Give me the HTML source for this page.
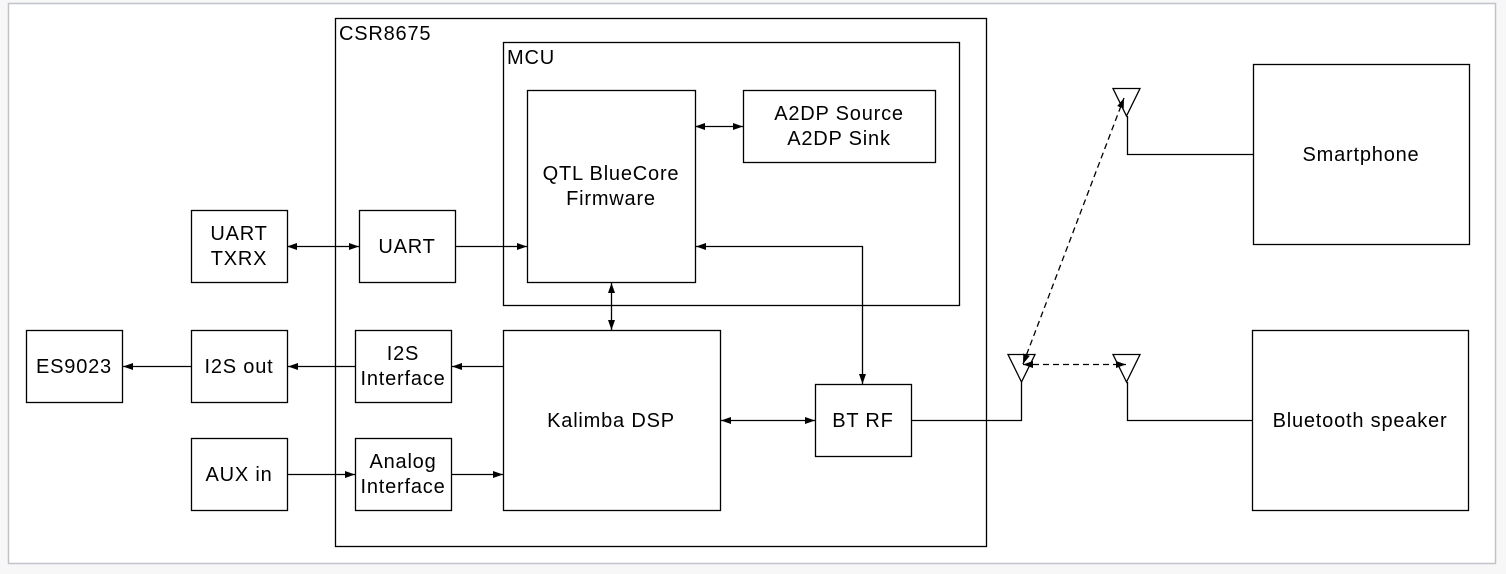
<!DOCTYPE html>
<html><head><style>
html,body{margin:0;padding:0;background:#f7f7f7;}
svg{display:block;}
text{font-family:"Liberation Sans",sans-serif;font-size:20px;letter-spacing:0.8px;fill:#000;}
</style></head><body>
<svg width="1506" height="574" viewBox="0 0 1506 574" xmlns="http://www.w3.org/2000/svg">
<defs>
<marker id="a" viewBox="0 0 10 10" refX="10" refY="5" markerWidth="10" markerHeight="10" markerUnits="userSpaceOnUse" orient="auto-start-reverse">
<path d="M0,1.5 L10,5 L0,8.5 z" fill="#000"/></marker>
</defs>
<rect x="8.5" y="3.5" width="1487" height="560" fill="#fff" stroke="#c0c4c8" stroke-width="1.5"/>
<g fill="none" stroke="#000" stroke-width="1.3">
<rect x="335.5" y="18.5" width="651" height="528"/>
<rect x="503.5" y="42.5" width="456" height="263"/>
<rect x="527.5" y="90.5" width="168" height="192"/>
<rect x="743.5" y="90.5" width="192" height="72"/>
<rect x="191.5" y="210.5" width="96" height="72"/>
<rect x="359.5" y="210.5" width="96" height="72"/>
<rect x="26.5" y="330.5" width="96" height="72"/>
<rect x="191.5" y="330.5" width="96" height="72"/>
<rect x="355.5" y="330.5" width="96" height="72"/>
<rect x="503.5" y="330.5" width="217" height="180"/>
<rect x="191.5" y="438.5" width="96" height="72"/>
<rect x="355.5" y="438.5" width="96" height="72"/>
<rect x="815.5" y="384.5" width="96" height="72"/>
<rect x="1253.5" y="64.5" width="216" height="180"/>
<rect x="1252.5" y="330.5" width="216" height="180"/>

<line x1="287" y1="246.5" x2="359" y2="246.5" marker-start="url(#a)" marker-end="url(#a)"/>
<line x1="455" y1="246.5" x2="527" y2="246.5" marker-end="url(#a)"/>
<line x1="695" y1="126.5" x2="743" y2="126.5" marker-start="url(#a)" marker-end="url(#a)"/>
<polyline points="696,246.5 862.5,246.5 862.5,384" marker-start="url(#a)" marker-end="url(#a)"/>
<line x1="611.5" y1="283" x2="611.5" y2="330" marker-start="url(#a)" marker-end="url(#a)"/>
<line x1="503" y1="366.5" x2="452" y2="366.5" marker-end="url(#a)"/>
<line x1="355" y1="366.5" x2="288" y2="366.5" marker-end="url(#a)"/>
<line x1="191" y1="366.5" x2="123" y2="366.5" marker-end="url(#a)"/>
<line x1="288" y1="474.5" x2="355" y2="474.5" marker-end="url(#a)"/>
<line x1="452" y1="474.5" x2="503" y2="474.5" marker-end="url(#a)"/>
<line x1="721" y1="420.5" x2="815" y2="420.5" marker-start="url(#a)" marker-end="url(#a)"/>

<polyline points="912,420.5 1021.5,420.5 1021.5,382"/>
<polygon points="1008,354.5 1035,354.5 1021.5,382"/>
<polygon points="1113,88.5 1140,88.5 1126.5,116"/>
<polyline points="1127.5,116 1127.5,154.5 1253,154.5"/>
<polygon points="1113,354.5 1140,354.5 1126.5,382"/>
<polyline points="1127.5,382 1127.5,420.5 1252,420.5"/>
<line x1="1023" y1="364" x2="1124" y2="98" stroke-dasharray="6,4" marker-start="url(#a)" marker-end="url(#a)"/>
<line x1="1023" y1="364.5" x2="1126" y2="364.5" stroke-dasharray="6,4" marker-start="url(#a)" marker-end="url(#a)"/>
</g>
<text x="339" y="40">CSR8675</text>
<text x="507" y="64">MCU</text>
<g text-anchor="middle">
<text x="611" y="180">QTL BlueCore</text>
<text x="611" y="205">Firmware</text>
<text x="839" y="120">A2DP Source</text>
<text x="839" y="145">A2DP Sink</text>
<text x="239" y="240">UART</text>
<text x="239" y="265">TXRX</text>
<text x="407" y="253">UART</text>
<text x="74" y="373">ES9023</text>
<text x="239" y="373">I2S out</text>
<text x="403" y="360">I2S</text>
<text x="403" y="385">Interface</text>
<text x="611" y="427">Kalimba DSP</text>
<text x="239" y="481">AUX in</text>
<text x="403" y="468">Analog</text>
<text x="403" y="493">Interface</text>
<text x="863" y="427">BT RF</text>
<text x="1361" y="161">Smartphone</text>
<text x="1360" y="427">Bluetooth speaker</text>
</g>
</svg>
</body></html>
